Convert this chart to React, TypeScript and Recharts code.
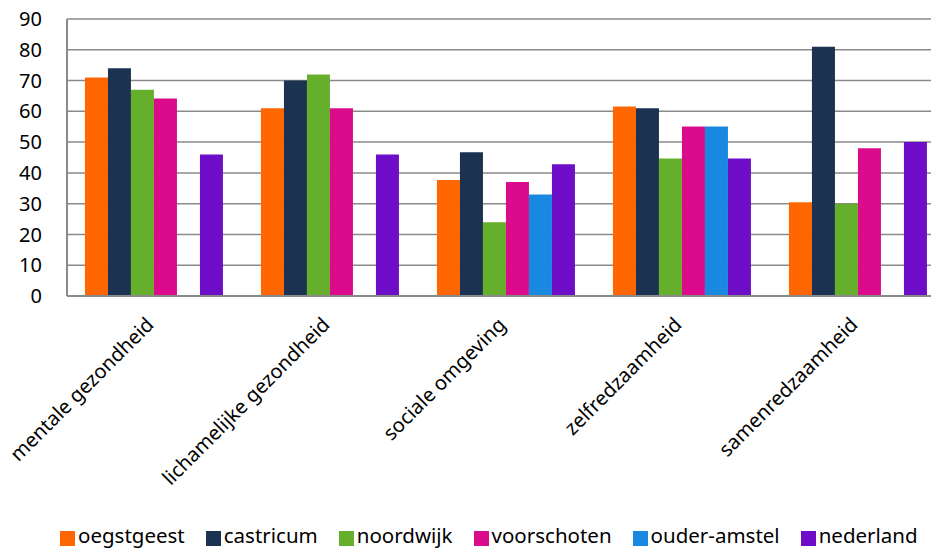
import { BarChart, Bar, XAxis, YAxis, CartesianGrid } from 'recharts';

const categories = [
  'mentale gezondheid',
  'lichamelijke gezondheid',
  'sociale omgeving',
  'zelfredzaamheid',
  'samenredzaamheid',
];

const oegstgeest = [71, 61, 37.7, 61.6, 30.5];
const castricum = [74, 70, 46.7, 61, 81];
const noordwijk = [67, 72, 24, 44.7, 30];
const voorschoten = [64.2, 61, 37, 55.1, 48];
const ouderAmstel = [null, null, 33, 55.1, null];
const nederland = [46, 46, 42.8, 44.7, 50];

const yTicks = [0, 10, 20, 30, 40, 50, 60, 70, 80, 90];

const series = [
  { key: 'oegstgeest', values: oegstgeest, color: '#ff6600' },
  { key: 'castricum', values: castricum, color: '#1b3251' },
  { key: 'noordwijk', values: noordwijk, color: '#65af2d' },
  { key: 'voorschoten', values: voorschoten, color: '#da0c8c' },
  { key: 'ouder-amstel', values: ouderAmstel, color: '#1888e0' },
  { key: 'nederland', values: nederland, color: '#6e0dc8' },
];

const data = categories.map((name, i) => {
  const row: Record<string, string | number | null> = { name };
  series.forEach((s) => {
    row[s.key] = s.values[i];
  });
  return row;
});

const FONT = '"Noto Sans", sans-serif';

function CategoryTick(props: any) {
  const { x, y, payload } = props;
  const ax = x;
  const ay = y + 30;
  return (
    <text
      x={ax}
      y={ay}
      transform={`rotate(-45 ${ax} ${ay})`}
      textAnchor="end"
      fontFamily={FONT}
      fontSize={20}
      fill="#000"
    >
      {payload.value}
    </text>
  );
}

export default function App() {
  return (
    <div
      style={{
        position: 'absolute',
        left: 0,
        top: 0,
        width: 931,
        height: 549,
        overflow: 'hidden',
        background: '#fff',
      }}
    >
      <BarChart
        width={960}
        height={549}
        data={data}
        margin={{ top: 19, right: 13, bottom: 0, left: 0 }}
        barCategoryGap="10.2%"
        barGap={0}
      >
        <CartesianGrid vertical={false} stroke="#8a8a8a" strokeWidth={1.5} />
        <XAxis
          dataKey="name"
          height={253}
          interval={0}
          tickLine={false}
          tickSize={0}
          tickMargin={0}
          axisLine={{ stroke: '#8a8a8a', strokeWidth: 2 }}
          tick={<CategoryTick />}
        />
        <YAxis
          width={67}
          domain={[0, 90]}
          ticks={yTicks}
          interval={0}
          tickLine={false}
          tickSize={0}
          tickMargin={25}
          axisLine={{ stroke: '#8a8a8a', strokeWidth: 2 }}
          tick={{ fontFamily: FONT, fontSize: 20, fill: '#000' }}
        />
        {series.map((s) => (
          <Bar key={s.key} dataKey={s.key} fill={s.color} isAnimationActive={false} />
        ))}
      </BarChart>
      <div
        style={{
          position: 'absolute',
          left: 60,
          top: 525,
          display: 'flex',
          alignItems: 'flex-start',
          fontFamily: FONT,
          fontSize: 20.5,
          lineHeight: '20px',
          color: '#000',
          whiteSpace: 'nowrap',
        }}
      >
        {series.map((s) => (
          <div key={s.key} style={{ display: 'flex', alignItems: 'flex-start', marginRight: 21 }}>
            <span
              style={{
                display: 'inline-block',
                width: 15,
                height: 15,
                background: s.color,
                marginRight: 3,
                marginTop: 6,
              }}
            />
            <span>{s.key}</span>
          </div>
        ))}
      </div>
    </div>
  );
}
